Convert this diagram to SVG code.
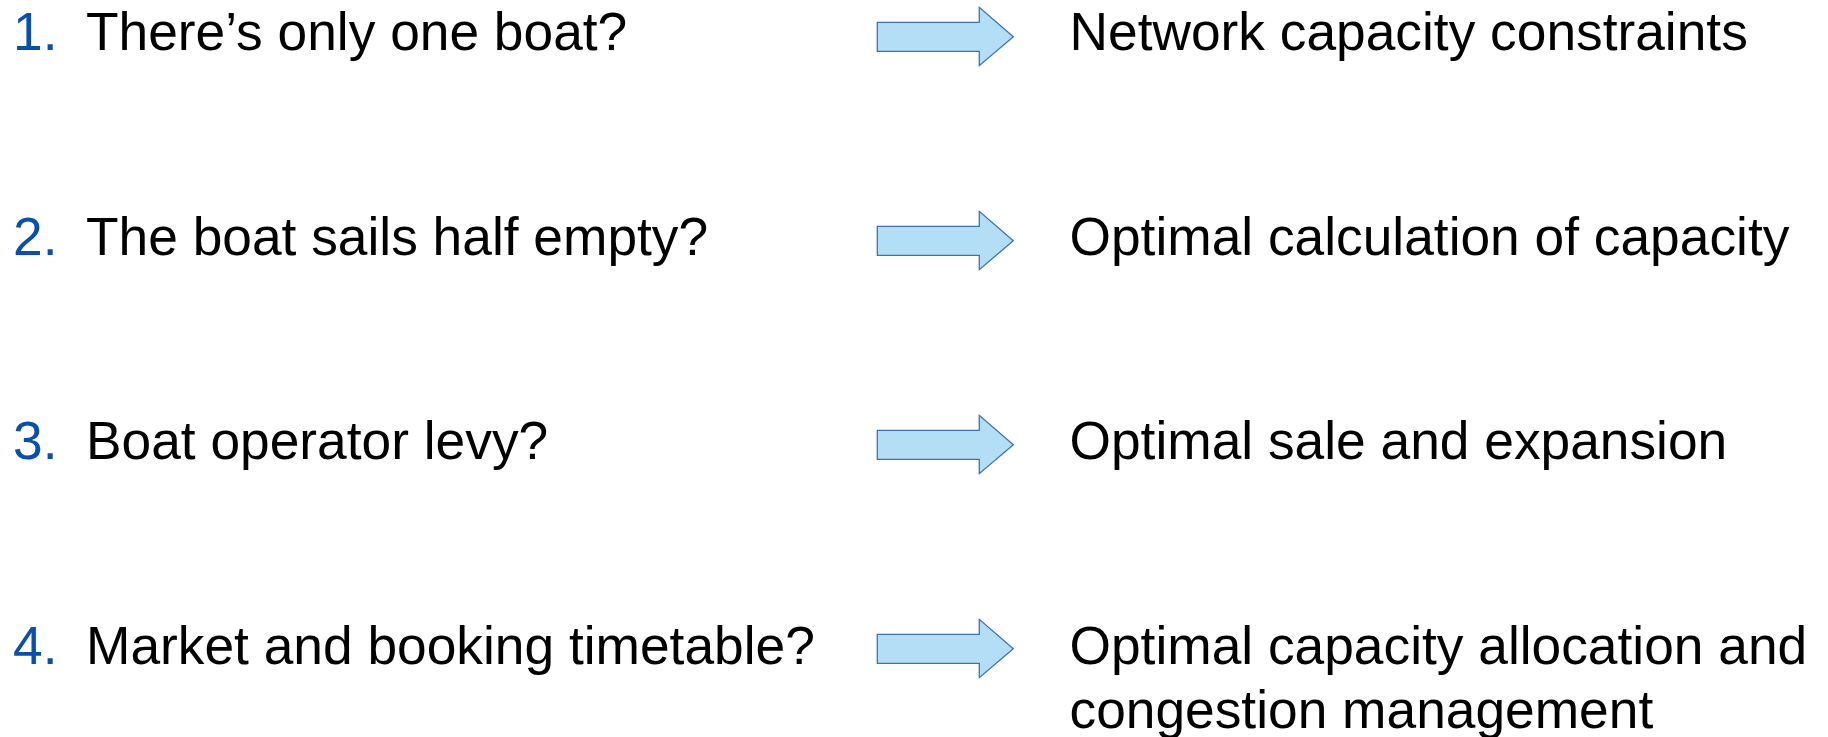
<svg xmlns="http://www.w3.org/2000/svg" width="1828" height="737" viewBox="0 0 1828 737">
<style>
text{font-family:"Liberation Sans",Arial,sans-serif;font-size:53.3px;fill:#000}
.num{fill:#0B50A8}
.arr{fill:#B3DEF5;stroke:#3C72B8;stroke-width:1.3}
</style>
<defs>
<polygon id="arrow" class="arr" points="0,0 102,0 102,-15 136,14.4 102,43.4 102,29 0,29"/>
</defs>
<rect width="1828" height="737" fill="#fff"/>
<g id="connectors">
<use href="#arrow" x="877.3" y="22.3"/>
<use href="#arrow" x="877.3" y="226.3"/>
<use href="#arrow" x="877.3" y="430.3"/>
<use href="#arrow" x="877.3" y="634.3"/>
</g>
<g id="q1"><text class="num" x="13" y="50">1.</text><text x="86" y="50">There’s only one boat?</text></g>
<g id="q2"><text class="num" x="13" y="254.5">2.</text><text x="86" y="254.5">The boat sails half empty?</text></g>
<g id="q3"><text class="num" x="13" y="459">3.</text><text x="86" y="459">Boat operator levy?</text></g>
<g id="q4"><text class="num" x="13" y="663.5">4.</text><text x="86" y="663.5">Market and booking timetable?</text></g>
<g id="a1"><text x="1069.5" y="50">Network capacity constraints</text></g>
<g id="a2"><text x="1069.5" y="254.5">Optimal calculation of capacity</text></g>
<g id="a3"><text x="1069.5" y="459">Optimal sale and expansion</text></g>
<g id="a4"><text x="1069.5" y="663.5">Optimal capacity allocation and</text><text x="1069.5" y="727.5">congestion management</text></g>
</svg>
